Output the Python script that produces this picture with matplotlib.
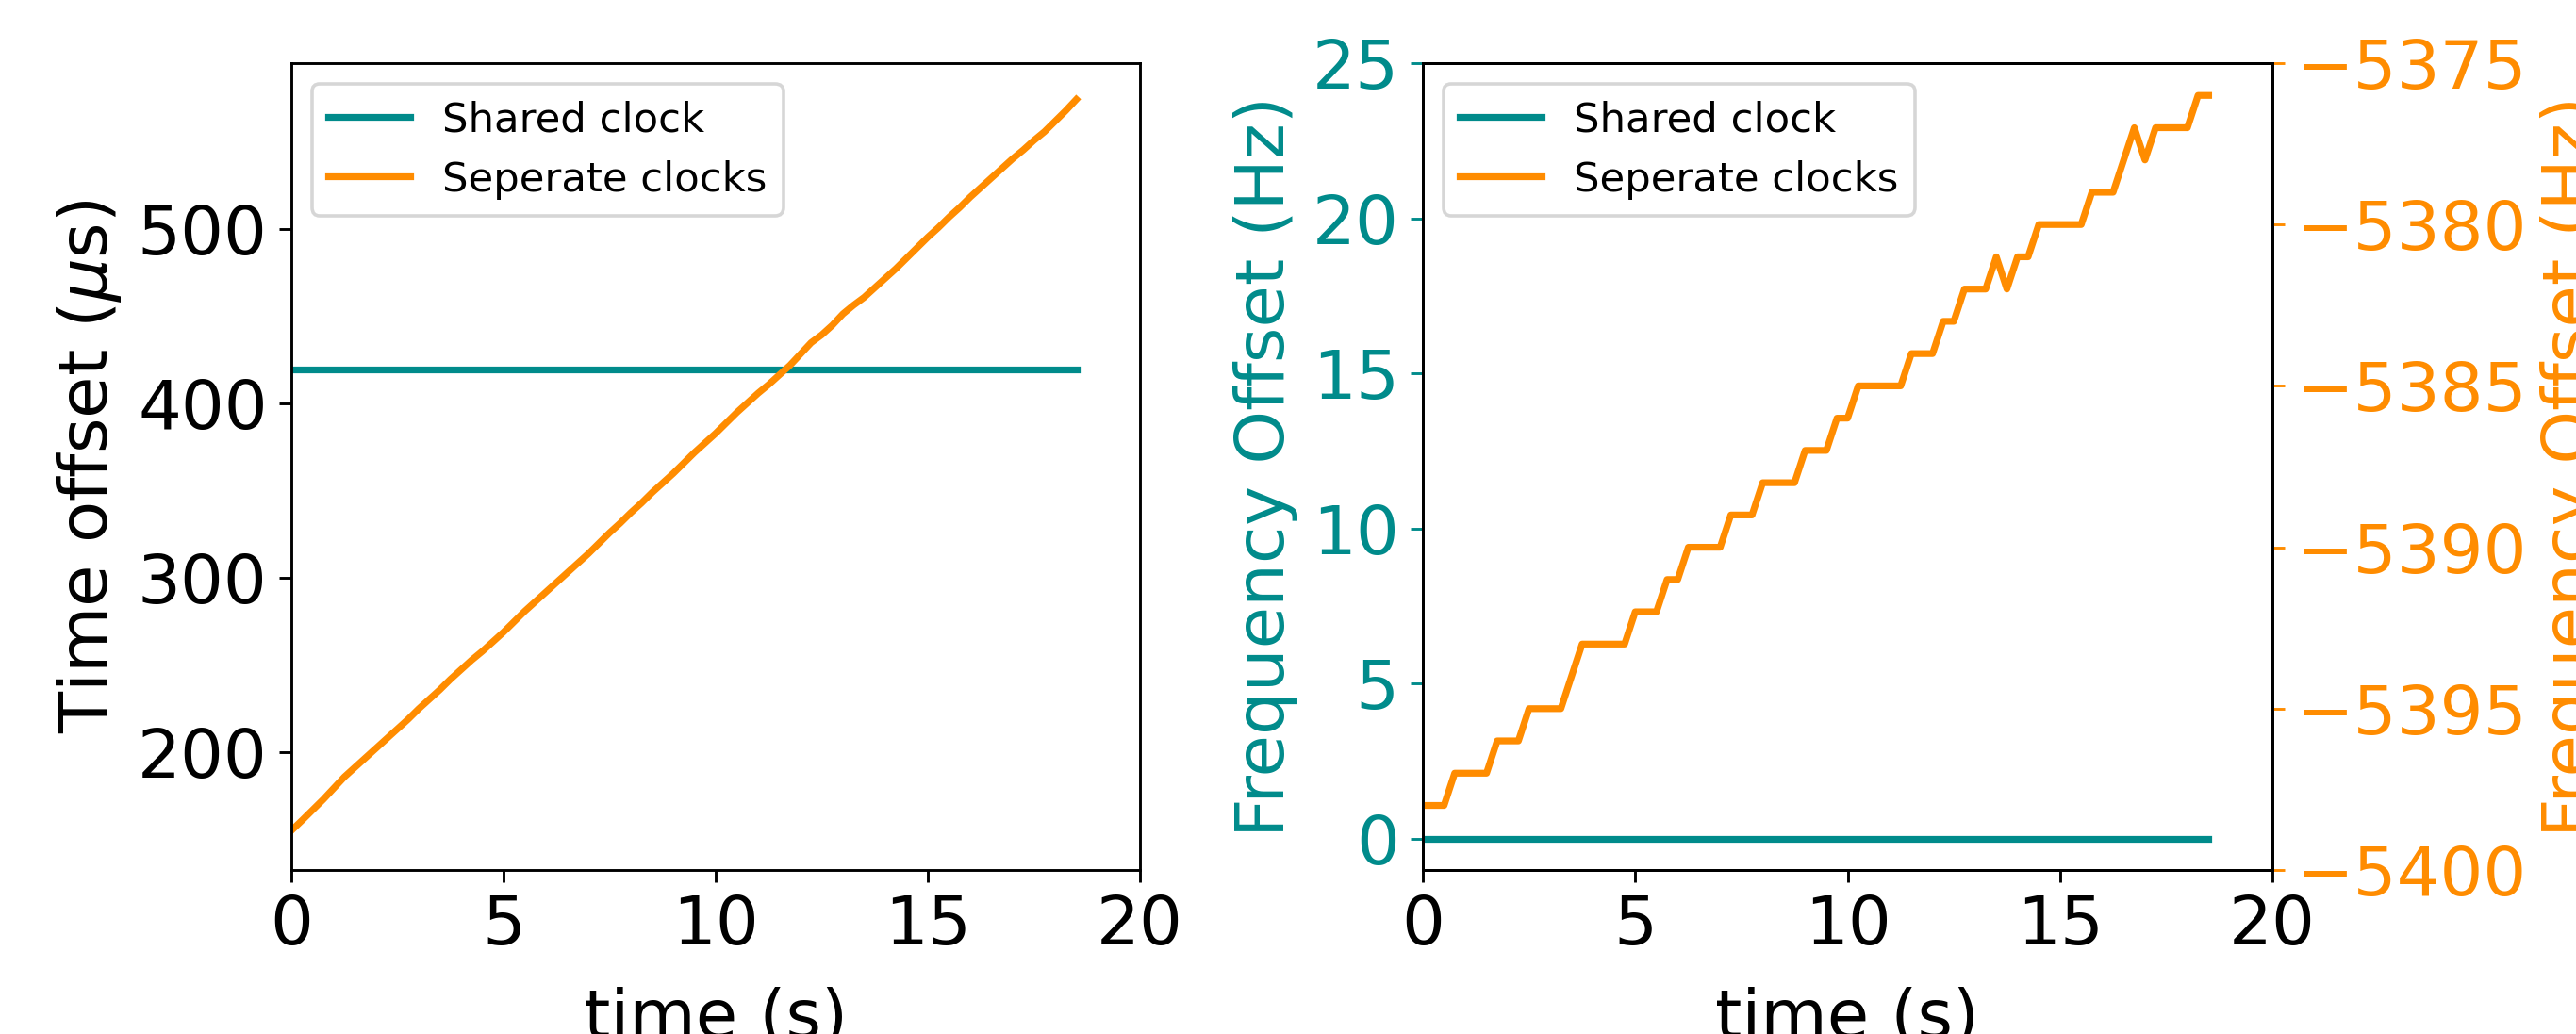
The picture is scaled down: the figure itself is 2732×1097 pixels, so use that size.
import matplotlib
matplotlib.use("Agg")
import matplotlib.pyplot as plt

# ---------------- data ----------------
time_s = [0.0, 0.25, 0.5, 0.75, 1.0, 1.25, 1.5, 1.75, 2.0, 2.25, 2.5, 2.75,
          3.0, 3.25, 3.5, 3.75, 4.0, 4.25, 4.5, 4.75, 5.0, 5.25, 5.5, 5.75,
          6.0, 6.25, 6.5, 6.75, 7.0, 7.25, 7.5, 7.75, 8.0, 8.25, 8.5, 8.75,
          9.0, 9.25, 9.5, 9.75, 10.0, 10.25, 10.5, 10.75, 11.0, 11.25, 11.5,
          11.75, 12.0, 12.25, 12.5, 12.75, 13.0, 13.25, 13.5, 13.75, 14.0,
          14.25, 14.5, 14.75, 15.0, 15.25, 15.5, 15.75, 16.0, 16.25, 16.5,
          16.75, 17.0, 17.25, 17.5, 17.75, 18.0, 18.25, 18.5]

# Left panel: time offset (us)
shared_time_offset = [419.4] * len(time_s)
separate_time_offset = [155.2, 161, 167, 173, 179.5, 186, 191.5, 197, 202.5, 208,
                        213.5, 219, 225, 230.5, 236, 242, 247.5, 253, 258, 263.5,
                        269, 275, 281, 286.5, 292, 297.5, 303, 308.5, 314, 320,
                        326, 331.5, 337.5, 343, 349, 354.5, 360, 366, 372, 377.5,
                        383, 389, 395, 400.5, 406, 411, 416.5, 422, 428.5, 435,
                        439.5, 445, 451.5, 456.5, 461, 466.5, 472, 477.5, 483.5,
                        489.5, 495.5, 501, 507, 512.5, 518.5, 524, 529.5, 535,
                        540.5, 545.5, 551, 556, 562, 568, 574.5]

# Right panel: frequency offset (Hz)
shared_freq_offset = [0.0] * len(time_s)
separate_freq_offset = [-5398, -5398, -5398, -5397, -5397, -5397, -5397, -5396,
                        -5396, -5396, -5395, -5395, -5395, -5395, -5394, -5393,
                        -5393, -5393, -5393, -5393, -5392, -5392, -5392, -5391,
                        -5391, -5390, -5390, -5390, -5390, -5389, -5389, -5389,
                        -5388, -5388, -5388, -5388, -5387, -5387, -5387, -5386,
                        -5386, -5385, -5385, -5385, -5385, -5385, -5384, -5384,
                        -5384, -5383, -5383, -5382, -5382, -5382, -5381, -5382,
                        -5381, -5381, -5380, -5380, -5380, -5380, -5380, -5379,
                        -5379, -5379, -5378, -5377, -5378, -5377, -5377, -5377,
                        -5377, -5376, -5376]

labels = ["Shared clock", "Seperate clocks"]
x_ticks = [0, 5, 10, 15, 20]

# ---------------- style ----------------
TEAL = "#008B8B"
ORANGE = "#FF8C00"
DPI = 260
W, H = 2732, 1097
TICK_FS = 20
LABEL_FS = 20
LEG_FS = 12
LW = 2
XLABEL_PAD = 8

fig = plt.figure(figsize=(W / DPI, H / DPI), dpi=DPI)

def frac(x0, y0, x1, y1):
    return [x0 / W, 1 - y1 / H, (x1 - x0) / W, (y1 - y0) / H]

# ---------------- left panel ----------------
ax1 = fig.add_axes(frac(309, 67, 1209, 923))
ax1.plot(time_s, shared_time_offset, color=TEAL, lw=LW, label=labels[0])
ax1.plot(time_s, separate_time_offset, color=ORANGE, lw=LW, label=labels[1])
ax1.set_xlim(0, 20)
ax1.set_xticks(x_ticks)
ax1.set_ylim(132.6, 595.3)
ax1.set_yticks([200, 300, 400, 500])
ax1.tick_params(labelsize=TICK_FS)
ax1.set_xlabel("time (s)", fontsize=LABEL_FS, labelpad=XLABEL_PAD)
ax1.set_ylabel(r"Time offset ($\mu$s)", fontsize=LABEL_FS)
ax1.legend(loc="upper left", fontsize=LEG_FS)

# ---------------- right panel ----------------
ax2 = fig.add_axes(frac(1509, 67, 2410, 923))
l1, = ax2.plot(time_s, shared_freq_offset, color=TEAL, lw=LW, label=labels[0])
ax2.set_xlim(0, 20)
ax2.set_xticks(x_ticks)
ax2.set_ylim(-1, 25)
ax2.set_yticks([0, 5, 10, 15, 20, 25])
ax2.tick_params(axis="x", labelsize=TICK_FS)
ax2.tick_params(axis="y", labelsize=TICK_FS, colors=TEAL)
ax2.set_xlabel("time (s)", fontsize=LABEL_FS, labelpad=XLABEL_PAD)
ax2.set_ylabel("Frequency Offset (Hz)", fontsize=LABEL_FS, color=TEAL)

ax3 = ax2.twinx()
l2, = ax3.plot(time_s, separate_freq_offset, color=ORANGE, lw=LW, label=labels[1])
ax3.set_ylim(-5400, -5375)
ax3.set_yticks([-5400, -5395, -5390, -5385, -5380, -5375])
ax3.tick_params(axis="y", labelsize=TICK_FS, colors=ORANGE)
ax3.set_ylabel("Frequency Offset (Hz)", fontsize=LABEL_FS, color=ORANGE)
ax3.legend([l1, l2], labels, loc="upper left", fontsize=LEG_FS)

fig.savefig("out.png", dpi=DPI)
